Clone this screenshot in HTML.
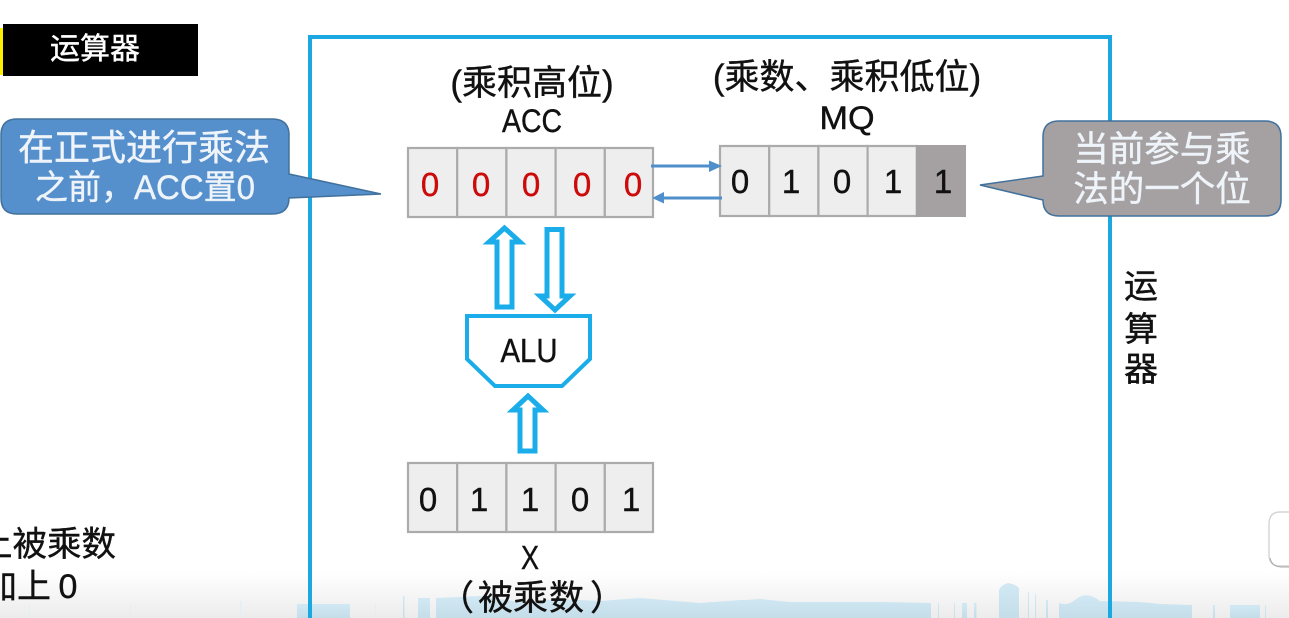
<!DOCTYPE html>
<html><head><meta charset="utf-8"><style>
html,body{margin:0;padding:0;background:#fff;overflow:hidden}
svg{display:block}
text{font-family:"Liberation Sans","Noto Sans CJK SC",sans-serif;fill:var(--c,#111);stroke:var(--c,#111);stroke-width:.4}
.b{text-anchor:middle}
.w{--c:#eef4f9}
.r{--c:#cc0a0a}
</style></head><body>
<svg width="1289" height="618" viewBox="0 0 1289 618" xmlns="http://www.w3.org/2000/svg">
<defs>
<linearGradient id="g" x1="0" y1="0" x2="0" y2="1"><stop offset="0" stop-color="#fff"/><stop offset="1" stop-color="#ececec"/></linearGradient>
<linearGradient id="s" x1="0" y1="0" x2="0" y2="1"><stop offset="0" stop-color="#d2e9f4"/><stop offset="1" stop-color="#c3dde9"/></linearGradient>
</defs>
<rect width="1289" height="618" fill="#fff"/>
<rect x="0" y="572" width="1289" height="46" fill="url(#g)"/>
<g fill="#e4eef3"><rect x="29" y="604" width="1" height="14"/><rect x="130" y="604" width="1" height="14"/><rect x="240" y="601" width="1.5" height="17"/><rect x="375" y="604" width="1" height="14"/></g>
<g fill="url(#s)">
<rect x="297" y="604" width="53" height="14"/>
<rect x="403" y="596" width="1.5" height="22"/><rect x="418" y="598" width="12" height="20"/>
<path d="M436 598 L480 596 L520 602 L560 599 L600 601 L640 598 L700 603 L740 600 L745 600 L760 599 L790 602 L880 602 L931 603 V618 H436Z"/>
<rect x="962" y="603" width="5" height="15"/><rect x="974" y="603" width="2.5" height="15"/><rect x="938" y="603" width="1" height="15"/><rect x="954" y="603" width="1" height="15"/>
<path d="M999 618 V590 Q1001 585 1008 583 Q1015 584 1019 588 V618Z"/><rect x="1028" y="592" width="1" height="26"/><rect x="1035" y="594" width="1" height="24"/><rect x="1046" y="600" width="2" height="18"/>
<path d="M1059 603 Q1068 606 1075 600 Q1086 590 1100 601 L1140 602 L1160 604 L1192 605 V618 H1059Z"/>
<rect x="1213" y="605" width="2" height="13"/><rect x="1230" y="605" width="30" height="13"/><rect x="1265" y="605" width="1" height="13"/>
</g>
<path d="M1289 512 H1280 Q1269 512 1269 524 V555 Q1269 566 1280 566 H1289" fill="#fff" stroke="#d4d4d4" stroke-width="1.4"/>
<path d="M1270 558 Q1272 567 1282 567 H1289" fill="none" stroke="#aaa" stroke-width="1"/>

<path d="M310 618 V37 H1110 V618" fill="none" stroke="#1ba7df" stroke-width="4"/>

<rect x="0" y="28" width="4" height="47" fill="#fbf000"/>
<rect x="3" y="24" width="195" height="52" fill="#000"/>
<text x="95" y="59" class="b" font-size="30" style="--c:#fff">运算器</text>

<path d="M17 119 H272 Q289 119 289 135 V174 L381 194 L289 198 Q289 214 272 214 H17 Q1 214 1 198 V135 Q1 119 17 119Z" fill="#558fcc" stroke="#41719c" stroke-width="1.5"/>
<text x="144" y="160" class="b w" font-size="36" textLength="252">在正式进行乘法</text>
<text x="145" y="199" class="b w" font-size="34" textLength="220" lengthAdjust="spacingAndGlyphs">之前，ACC置0</text>

<path d="M1059 121 H1265 Q1281 121 1281 137 V200 Q1281 216 1265 216 H1059 Q1043 216 1043 200 L980 185 L1043 176 V137 Q1043 121 1059 121Z" fill="#a5a1a2" stroke="#41719c" stroke-width="1.5"/>
<text x="1162" y="161" class="b w" font-size="35.5">当前参与乘</text>
<text x="1162" y="201" class="b w" font-size="35.5">法的一个位</text>

<text x="532" y="95" class="b" font-size="35">(乘积高位)</text>
<text x="532" y="132" class="b" font-size="32" textLength="60" lengthAdjust="spacingAndGlyphs">ACC</text>
<text x="847" y="89" class="b" font-size="35">(乘数、乘积低位)</text>
<text x="847" y="129" class="b" font-size="32" textLength="55" lengthAdjust="spacingAndGlyphs">MQ</text>

<g fill="#eeeeee" stroke="#ababab" stroke-width="2.2">
<rect x="408" y="148" width="49.2" height="69"/><rect x="457.2" y="148" width="49.2" height="69"/><rect x="506.4" y="148" width="49.2" height="69"/><rect x="555.6" y="148" width="49.2" height="69"/><rect x="604.8" y="148" width="48.2" height="69"/>
<rect x="720" y="146" width="49.2" height="70"/><rect x="769.2" y="146" width="49.2" height="70"/><rect x="818.4" y="146" width="49.2" height="70"/><rect x="867.6" y="146" width="49.2" height="70"/>
<rect x="408" y="463" width="49.2" height="69"/><rect x="457.2" y="463" width="49.2" height="69"/><rect x="506.4" y="463" width="49.2" height="69"/><rect x="555.6" y="463" width="49.2" height="69"/><rect x="604.8" y="463" width="48.2" height="69"/>
</g>
<rect x="916" y="145" width="50" height="72" fill="#a5a1a2"/>
<g font-size="33" text-anchor="middle">
<text x="430" y="196" class="r">0</text><text x="481" y="196" class="r">0</text><text x="531" y="196" class="r">0</text><text x="582" y="196" class="r">0</text><text x="633" y="196" class="r">0</text>
<text x="740" y="193">0</text><text x="791" y="193">1</text><text x="842" y="193">0</text><text x="893" y="193">1</text><text x="943" y="193">1</text>
<text x="428" y="511">0</text><text x="479" y="511">1</text><text x="530" y="511">1</text><text x="580" y="511">0</text><text x="631" y="511">1</text>
</g>

<g fill="#4f8fcb">
<rect x="651" y="164.5" width="60" height="3"/><path d="M709 160.5 L722 166 L709 172Z"/>
<rect x="664" y="196.5" width="58" height="3"/><path d="M664 192 L652 198 L664 203.5Z"/>
</g>

<g fill="#fff" stroke="#1badea" stroke-width="5" stroke-linejoin="miter">
<path d="M497 307 V242 H489 L504.5 228 L520 242 H512 V307Z"/>
<path d="M547 229.5 V296 H540 L555 310 L570 296 H562 V229.5Z"/>
<path d="M520 451 V410 H513 L528 396 L543 410 H535 V451Z"/>
</g>
<path d="M467 316 H590 V359 L562 386 H495 L467 359Z" fill="#fff" stroke="#1badea" stroke-width="4"/>
<text x="529" y="362" class="b" font-size="33" textLength="57" lengthAdjust="spacingAndGlyphs">ALU</text>

<text x="530" y="569" class="b" font-size="33" textLength="18" lengthAdjust="spacingAndGlyphs">X</text>
<text x="439 478 513 549 590" y="610" font-size="35">（被乘数）</text>

<text x="1141" y="298" class="b" font-size="34">运</text>
<text x="1141" y="341" class="b" font-size="34">算</text>
<text x="1141" y="381" class="b" font-size="34">器</text>

<text x="-22" y="556" font-size="34.5">上被乘数</text>
<text x="-17" y="598" font-size="34" word-spacing="-2">加上 0</text>
</svg>
</body></html>
